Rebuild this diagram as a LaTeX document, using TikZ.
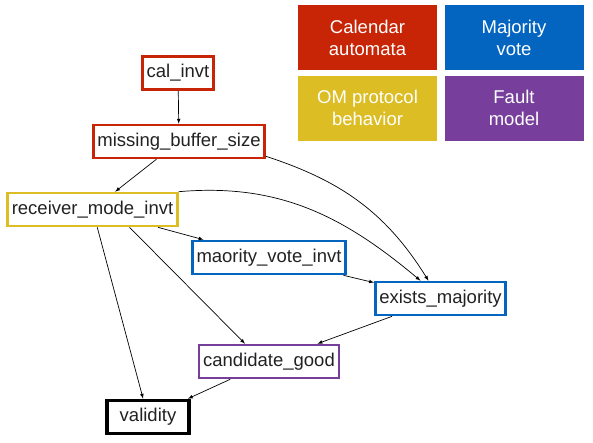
\documentclass[tikz,border=0pt]{standalone}
\usepackage{fontspec}
\setmainfont{Liberation Sans}
\definecolor{calred}{HTML}{C82506}
\definecolor{voteblue}{HTML}{0365C0}
\definecolor{omyellow}{HTML}{DCBD23}
\definecolor{faultpurple}{HTML}{773F9B}
\definecolor{inktext}{HTML}{222222}
\tikzset{
  inv/.style={draw, line width=2.6pt, fill=white, text=inktext, inner xsep=4pt,
    minimum height=33pt, font=\fontsize{18.5}{20}\selectfont},
  key/.style={fill, minimum width=139pt, minimum height=65pt, inner sep=0pt,
    text=white, align=center, font=\fontsize{18.5}{22}\selectfont},
  every path/.append style={line width=0.7pt},
}
\begin{document}
\begin{tikzpicture}[x=1pt,y=1pt,>=latex]
\useasboundingbox[fill=white] (0,0) rectangle (593,-442);
% legend
\node[key,fill=calred]      (k1) at (367.5,-37.5) {Calendar\\automata};
\node[key,fill=voteblue]    (k2) at (514,-37.5)   {Majority\\vote};
\node[key,fill=omyellow]    (k3) at (367.5,-108)  {OM protocol\\behavior};
\node[key,fill=faultpurple] (k4) at (514,-108)    {Fault\\model};
% invariants
\node[inv,draw=calred]      (cal) at (178,-73)      {cal\_invt};
\node[inv,draw=calred]      (mbs) at (179,-141.5)   {missing\_buffer\_size};
\node[inv,draw=omyellow]    (rmi) at (92.5,-209.5)  {receiver\_mode\_invt};
\node[inv,draw=voteblue]    (mvi) at (269,-257.5)   {maority\_vote\_invt};
\node[inv,draw=voteblue]    (em)  at (440.5,-298.5) {exists\_majority};
\node[inv,draw=faultpurple] (cg)  at (269,-361.5)   {candidate\_good};
\node[inv,draw=black,line width=3.6pt,minimum width=82pt] (val) at (148,-417) {validity};
\draw[->] (cal) -- (mbs);
\draw[->] (mbs) -- (rmi);
\draw[->] (rmi) -- (mvi);
\draw[->] (mvi) -- (em);
\draw[->] (em) -- (cg);
\draw[->] (cg) -- (val);
\draw[->] (rmi) -- (val);
\draw[->] ([xshift=37pt]rmi.south) -- ([xshift=-24pt]cg.north);
\draw[->] ([yshift=3pt]mbs.south east) to[out=-18,in=122] ([xshift=-12pt]em.north);
\draw[->] (rmi.north east) to[out=5,in=140] ([xshift=-20pt]em.north);
\end{tikzpicture}
\end{document}
